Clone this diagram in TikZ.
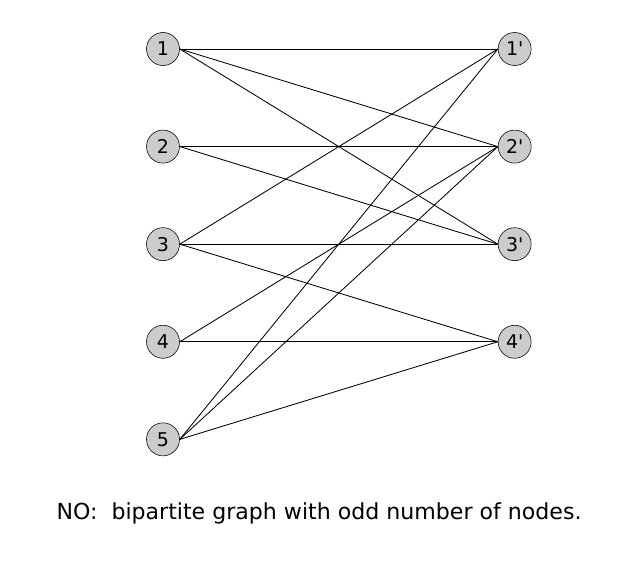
\documentclass[tikz,border=0pt]{standalone}
\usepackage{fontspec}
\setmainfont{DejaVu Sans}
\usepackage{tikz}
\usetikzlibrary{positioning}
\tikzset{
	vertex/.style = {draw, circle, fill=black!20, minimum size=0.825cm, inner sep=0pt, font=\fontsize{13.5}{15}\selectfont},
	edge/.style = {draw, line width=0.6pt},
}

\begin{document}
\begin{tikzpicture}[x=0.025cm, y=-0.025cm, node distance = 1.6cm]
        \useasboundingbox (0,0) rectangle (624,572);
        % left side
        \node (l1) at (163,49) [vertex] {1};
        \node (l2) [vertex, below=of l1] {2};
        \node (l3) [vertex, below=of l2] {3};
        \node (l4) [vertex, below=of l3] {4};
        \node (l5) [vertex, below=of l4] {5};
        % right side
        \node (r1) [vertex, right=7.95cm of l1] {1\textquotesingle};
        \node (r2) [vertex, below=of r1] {2\textquotesingle};
        \node (r3) [vertex, below=of r2] {3\textquotesingle};
        \node (r4) [vertex, below=of r3] {4\textquotesingle};
        \node (caption) at (319,513) {\fontsize{15.7}{19}\selectfont NO:~ bipartite graph with odd number of nodes.};
        \path [edge] (l1.east) -- (r1.west);
        \path [edge] (l1.east) -- (r2.west);
        \path [edge] (l1.east) -- (r3.west);
        \path [edge] (l2.east) -- (r2.west);
        \path [edge] (l2.east) -- (r3.west);
        \path [edge] (l3.east) -- (r1.west);
        \path [edge] (l3.east) -- (r3.west);
        \path [edge] (l3.east) -- (r4.west);
        \path [edge] (l4.east) -- (r2.west);
        \path [edge] (l4.east) -- (r4.west);
        \path [edge] (l5.east) -- (r1.west);
        \path [edge] (l5.east) -- (r2.west);
        \path [edge] (l5.east) -- (r4.west);
    \end{tikzpicture}
\end{document}
